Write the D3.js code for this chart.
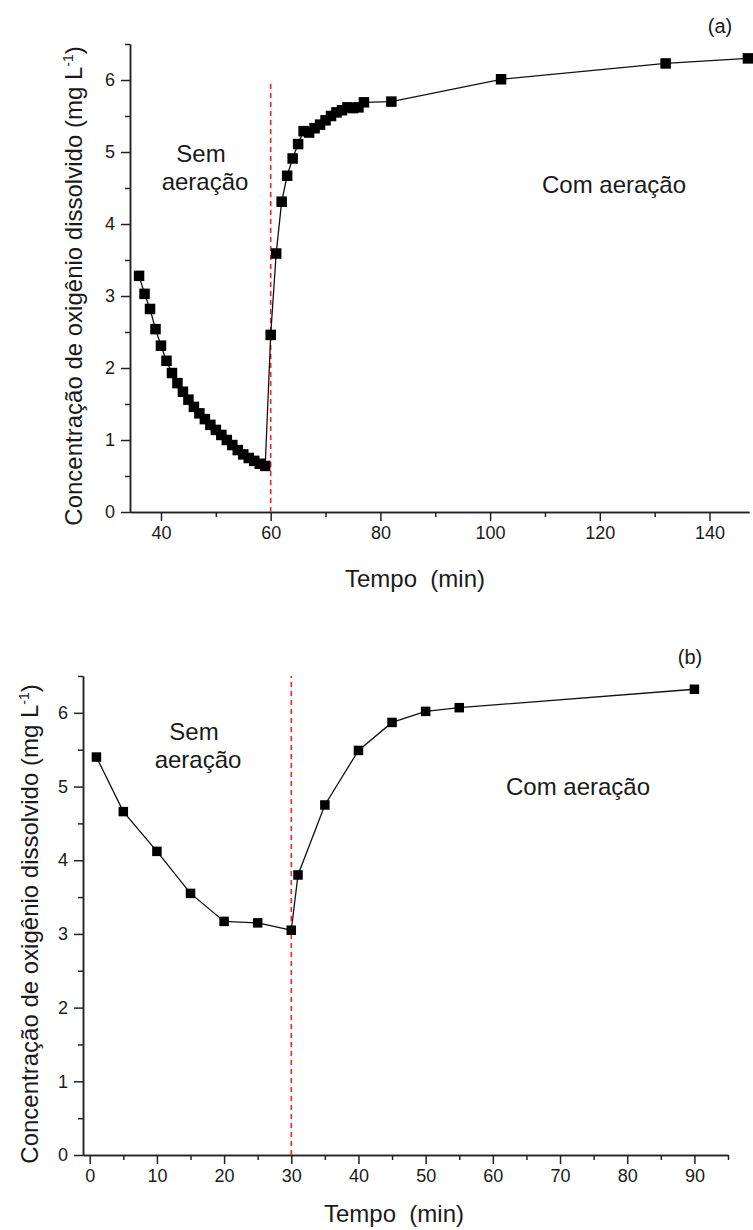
<!DOCTYPE html>
<html>
<head>
<meta charset="utf-8">
<script src="https://cdn.jsdelivr.net/npm/d3@7"></script>
<style>
  html, body { margin: 0; padding: 0; background: #fff; }
  svg { display: block; }
  text { font-family: "Liberation Sans", Arial, sans-serif; fill: #1a1a1a; }
</style>
</head>
<body>
<svg id="chart" width="753" height="1230"></svg>
<script>
// Panel (a): dissolved oxygen, stop of aeration at 60 min
const timeA = [36, 37, 38, 39, 40, 41, 42, 43, 44, 45, 46, 47, 48, 49, 50, 51, 52, 53, 54, 55, 56, 57, 58, 59,
               60, 61, 62, 63, 64, 65, 66, 67, 68, 69, 70, 71, 72, 73, 74, 75, 76, 77, 82, 102, 132, 147];
const oxygenA = [3.28, 3.03, 2.82, 2.54, 2.31, 2.10, 1.93, 1.79, 1.67, 1.56, 1.46, 1.37, 1.29, 1.21, 1.14, 1.07,
                 1.00, 0.93, 0.86, 0.80, 0.75, 0.71, 0.67, 0.64,
                 2.46, 3.59, 4.31, 4.67, 4.91, 5.11, 5.29, 5.27, 5.33, 5.38, 5.44, 5.50, 5.55, 5.58, 5.62, 5.61,
                 5.62, 5.69, 5.70, 6.01, 6.23, 6.30];
const xTicksA = [40, 60, 80, 100, 120, 140];
const xMinorA = [50, 70, 90, 110, 130];

// Panel (b): aeration restarted at 30 min
const timeB = [1, 5, 10, 15, 20, 25, 30, 31, 35, 40, 45, 50, 55, 90];
const oxygenB = [5.40, 4.66, 4.12, 3.55, 3.17, 3.15, 3.05, 3.80, 4.75, 5.49, 5.87, 6.02, 6.07, 6.32];
const xTicksB = [0, 10, 20, 30, 40, 50, 60, 70, 80, 90];
const xMinorB = [5, 15, 25, 35, 45, 55, 65, 75, 85, 95];

const yTicks = [0, 1, 2, 3, 4, 5, 6];
const yMinor = [0.5, 1.5, 2.5, 3.5, 4.5, 5.5, 6.5];

const svg = d3.select("#chart");

const panels = [
  {
    time: timeA, oxygen: oxygenA, xTicks: xTicksA, xMinor: xMinorA,
    xDomain: [34.35, 147.2], xRange: [130, 749],
    yRange: [512, 44], marker: 10.5, switchAt: 60, switchTop: 6.0,
    tag: "(a)", tagPos: [720, 33],
    sem: [201, 162], com: [614, 193],
    yTitle: [82, 286], xTitle: [415, 587]
  },
  {
    time: timeB, oxygen: oxygenB, xTicks: xTicksB, xMinor: xMinorB,
    xDomain: [-1, 95], xRange: [83, 728],
    yRange: [1155, 676], marker: 9.5, switchAt: 30, switchTop: 6.5,
    tag: "(b)", tagPos: [690, 664],
    sem: [194, 740], com: [578, 795],
    yTitle: [38, 924], xTitle: [394, 1222]
  }
];

panels.forEach(p => {
  const x = d3.scaleLinear().domain(p.xDomain).range(p.xRange);
  const y = d3.scaleLinear().domain([0, 6.5]).range(p.yRange);
  const g = svg.append("g");

  // Axes with outward major and minor ticks
  g.append("g").attr("transform", `translate(0,${p.yRange[0]})`)
    .call(d3.axisBottom(x).tickValues(p.xTicks).tickFormat(d3.format("d"))
      .tickSize(9).tickPadding(5).tickSizeOuter(0));
  g.append("g").attr("transform", `translate(0,${p.yRange[0]})`)
    .call(d3.axisBottom(x).tickValues(p.xMinor).tickSize(5).tickFormat("").tickSizeOuter(0));
  g.append("g").attr("transform", `translate(${p.xRange[0]},0)`)
    .call(d3.axisLeft(y).tickValues(yTicks).tickFormat(d3.format("d"))
      .tickSize(9).tickPadding(6).tickSizeOuter(0));
  g.append("g").attr("transform", `translate(${p.xRange[0]},0)`)
    .call(d3.axisLeft(y).tickValues(yMinor).tickSize(5).tickFormat("").tickSizeOuter(0));

  g.selectAll(".domain").attr("stroke", "#222").attr("stroke-width", 1.5);
  g.selectAll(".tick line").attr("stroke", "#222").attr("stroke-width", 1.5);
  g.selectAll(".tick text").style("font-family", '"Liberation Sans", Arial, sans-serif')
    .style("font-size", "18px").attr("fill", "#1a1a1a");

  // Moment the aeration is switched
  g.append("line")
    .attr("x1", x(p.switchAt)).attr("x2", x(p.switchAt))
    .attr("y1", y(0)).attr("y2", y(p.switchTop))
    .attr("stroke", "#ff2020").attr("stroke-width", 1.6)
    .attr("stroke-dasharray", "5,4");

  const pts = p.time.map((t, i) => [t, p.oxygen[i]]);

  g.append("path")
    .datum(pts)
    .attr("fill", "none").attr("stroke", "#111").attr("stroke-width", 1.3)
    .attr("d", d3.line().x(d => x(d[0])).y(d => y(d[1])));

  g.selectAll("rect.pt").data(pts).join("rect")
    .attr("class", "pt")
    .attr("x", d => x(d[0]) - p.marker / 2)
    .attr("y", d => y(d[1]) - p.marker / 2)
    .attr("width", p.marker).attr("height", p.marker)
    .attr("fill", "#000");

  // Annotations
  g.append("text").attr("x", p.sem[0]).attr("y", p.sem[1]).attr("text-anchor", "middle")
    .style("font-size", "24px").text("Sem");
  g.append("text").attr("x", p.sem[0] + 4).attr("y", p.sem[1] + 28).attr("text-anchor", "middle")
    .style("font-size", "24px").text("aeração");
  g.append("text").attr("x", p.com[0]).attr("y", p.com[1]).attr("text-anchor", "middle")
    .style("font-size", "24px").text("Com aeração");
  g.append("text").attr("x", p.tagPos[0]).attr("y", p.tagPos[1]).attr("text-anchor", "middle")
    .style("font-size", "20px").text(p.tag);

  // Axis titles
  g.append("text").attr("x", p.xTitle[0]).attr("y", p.xTitle[1]).attr("text-anchor", "middle")
    .style("font-size", "24px").attr("xml:space", "preserve").text("Tempo  (min)");

  const yt = g.append("text")
    .attr("transform", `translate(${p.yTitle[0]},${p.yTitle[1]}) rotate(-90)`)
    .attr("text-anchor", "middle")
    .style("font-size", "24px");
  yt.append("tspan").text("Concentração de oxigênio dissolvido (mg L");
  yt.append("tspan").attr("dy", -9).style("font-size", "14px").text("-1");
  yt.append("tspan").attr("dy", 9).text(")");
});
</script>
</body>
</html>
